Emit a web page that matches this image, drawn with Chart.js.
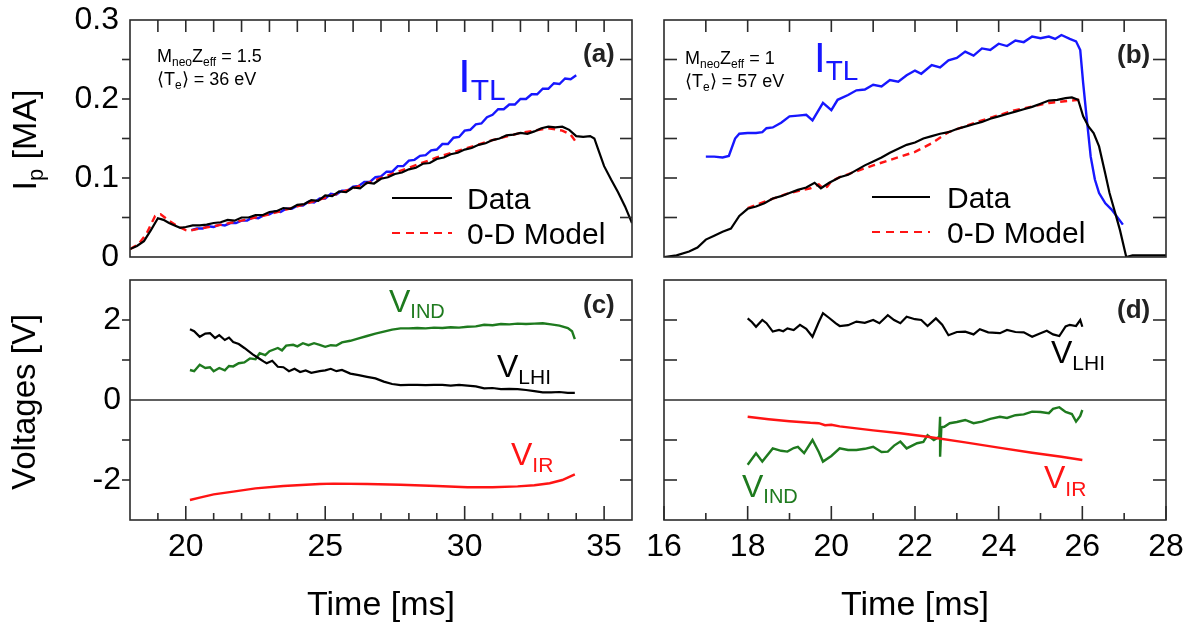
<!DOCTYPE html>
<html><head><meta charset="utf-8">
<script src="https://cdn.jsdelivr.net/npm/chart.js@4.4.0/dist/chart.umd.min.js"></script>
<style>
html,body{margin:0;padding:0;background:#fff;}
body{width:1190px;height:629px;overflow:hidden;position:relative;}
canvas{position:absolute;}
</style></head>
<body>
<canvas id="ca" width="660" height="268" style="left:0;top:0"></canvas>
<canvas id="cb" width="550" height="268" style="left:640px;top:0"></canvas>
<canvas id="cc" width="660" height="361" style="left:0;top:268px"></canvas>
<canvas id="cd" width="550" height="361" style="left:640px;top:268px"></canvas>
<script>
// ---------- Panel (a): plasma current, MneoZeff = 1.5 ----------
const tA_data = [18.0,18.25,18.5,18.75,19.0,19.2,19.4,19.6,19.8,20.0,
 20.25,20.5,20.75,21.0,21.25,21.5,21.75,22.0,22.25,22.5,
 22.75,23.0,23.25,23.5,23.75,24.0,24.25,24.5,24.75,25.0,
 25.25,25.5,25.75,26.0,26.25,26.5,26.75,27.0,27.25,27.5,
 27.75,28.0,28.25,28.5,28.75,29.0,29.25,29.5,29.75,30.0,
 30.25,30.5,30.75,31.0,31.25,31.5,31.75,32.0,32.25,32.5,
 32.75,33.0,33.25,33.5,33.75,34.0,34.25,34.5,34.65,34.8,
 35.0,35.25,35.5,35.75,36.0];
const ipA_data = [0.010,0.014,0.020,0.034,0.049,0.047,0.043,0.040,0.037,0.038,
 0.040,0.040,0.041,0.043,0.044,0.047,0.046,0.050,0.050,0.053,
 0.053,0.057,0.058,0.062,0.061,0.066,0.067,0.072,0.071,0.078,
 0.077,0.083,0.082,0.088,0.087,0.094,0.093,0.099,0.101,0.105,
 0.107,0.111,0.113,0.118,0.119,0.124,0.126,0.130,0.132,0.136,
 0.138,0.142,0.144,0.148,0.150,0.154,0.155,0.157,0.156,0.159,
 0.163,0.165,0.164,0.165,0.161,0.153,0.152,0.153,0.150,0.135,
 0.115,0.098,0.082,0.064,0.043];
const tA_model = [18.0,18.3,18.6,18.9,19.1,19.4,19.7,20.0,20.1,20.5,
 21.0,22.0,23.0,24.0,25.0,26.0,27.0,28.0,29.0,30.0,
 31.0,32.0,32.5,33.0,33.5,33.8,34.0];
const ipA_model = [0.010,0.016,0.030,0.052,0.054,0.046,0.039,0.034,0.033,0.036,
 0.039,0.046,0.054,0.064,0.075,0.087,0.100,0.113,0.126,0.137,
 0.148,0.157,0.160,0.163,0.160,0.155,0.145];
const tA_tl = [20.2,20.4,20.6,20.8,21.0,21.2,21.4,21.6,21.8,22.0,
 22.2,22.4,22.6,22.8,23.0,23.2,23.4,23.6,23.8,24.0,
 24.2,24.4,24.6,24.8,25.0,25.2,25.4,25.6,25.8,26.0,
 26.2,26.4,26.6,26.8,27.0,27.2,27.4,27.6,27.8,28.0,
 28.2,28.4,28.6,28.8,29.0,29.2,29.4,29.6,29.8,30.0,
 30.2,30.4,30.6,30.8,31.0,31.2,31.4,31.6,31.8,32.0,
 32.2,32.4,32.6,32.8,33.0,33.2,33.4,33.6,33.8,34.0];
const ipA_tl = [0.034,0.036,0.036,0.039,0.038,0.041,0.040,0.043,0.043,0.046,
 0.046,0.050,0.049,0.053,0.054,0.058,0.057,0.061,0.061,0.065,
 0.065,0.070,0.069,0.074,0.074,0.080,0.079,0.084,0.084,0.089,
 0.090,0.095,0.095,0.101,0.102,0.108,0.108,0.115,0.115,0.122,
 0.123,0.128,0.129,0.135,0.136,0.143,0.143,0.151,0.152,0.160,
 0.161,0.168,0.169,0.177,0.180,0.187,0.187,0.193,0.193,0.200,
 0.200,0.206,0.206,0.213,0.213,0.220,0.219,0.226,0.225,0.230];

// ---------- Panel (b): plasma current, MneoZeff = 1 ----------
const tB_data = [16.0,16.3,16.6,16.8,17.0,17.2,17.4,17.6,17.8,18.0,
 18.2,18.4,18.6,18.8,19.0,19.2,19.4,19.6,19.75,19.95,
 20.2,20.4,20.6,20.8,21.0,21.2,21.4,21.6,21.8,22.0,
 22.2,22.4,22.6,22.8,23.0,23.2,23.4,23.6,23.8,24.0,
 24.2,24.4,24.6,24.8,25.0,25.2,25.4,25.6,25.75,25.9,
 26.02,26.15,26.27,26.4,26.55,26.65,26.8,26.9,27.05,27.2,
 27.5,28.0];
const ipB_data = [0.000,0.002,0.007,0.012,0.022,0.027,0.032,0.036,0.052,0.061,
 0.064,0.068,0.074,0.077,0.081,0.085,0.088,0.094,0.087,0.094,
 0.101,0.104,0.110,0.116,0.121,0.126,0.132,0.137,0.142,0.145,
 0.150,0.153,0.156,0.158,0.162,0.165,0.168,0.171,0.175,0.178,
 0.181,0.184,0.187,0.190,0.194,0.198,0.199,0.201,0.202,0.199,
 0.178,0.165,0.157,0.140,0.105,0.081,0.053,0.034,0.000,0.002,
 0.002,0.002];
const tB_model = [18.0,18.5,19.0,19.5,19.7,19.8,19.9,20.0,20.2,21.0,
 22.0,22.4,22.8,23.6,24.4,25.2,25.9,26.0];
const ipB_model = [0.062,0.072,0.081,0.087,0.092,0.087,0.089,0.096,0.101,0.116,
 0.133,0.144,0.158,0.173,0.186,0.195,0.199,0.197];
const tB_tl = [17.0,17.2,17.4,17.55,17.7,17.8,18.0,18.2,18.35,18.45,
 18.6,18.8,19.0,19.2,19.4,19.55,19.8,20.0,20.15,20.4,
 20.6,20.8,21.0,21.2,21.4,21.6,21.8,22.0,22.15,22.4,
 22.6,22.8,23.0,23.2,23.4,23.6,23.8,24.0,24.2,24.4,
 24.6,24.8,25.0,25.2,25.35,25.5,25.7,25.85,25.95,26.02,
 26.1,26.2,26.3,26.4,26.55,26.7,26.97];
const ipB_tl = [0.127,0.127,0.126,0.128,0.150,0.156,0.157,0.157,0.158,0.163,
 0.164,0.170,0.178,0.179,0.180,0.173,0.195,0.186,0.199,0.205,
 0.211,0.212,0.218,0.216,0.224,0.222,0.230,0.236,0.232,0.243,
 0.240,0.249,0.252,0.260,0.255,0.264,0.262,0.270,0.267,0.274,
 0.272,0.279,0.277,0.279,0.276,0.281,0.276,0.273,0.262,0.220,
 0.178,0.127,0.098,0.081,0.068,0.060,0.041];

// ---------- Panel (c): voltages ----------
const tC_lhi = [20.15,20.3,20.5,20.7,20.87,21.05,21.2,21.4,21.55,21.7,
 21.9,22.1,22.4,22.6,22.8,22.9,23.1,23.3,23.5,23.7,
 23.9,24.1,24.3,24.5,24.8,25.0,25.2,25.4,25.6,25.9,
 26.2,26.5,26.8,27.1,27.4,27.7,28.0,28.3,28.6,28.9,
 29.2,29.5,29.8,30.1,30.4,30.7,31.0,31.3,31.6,31.9,
 32.2,32.5,32.8,33.1,33.4,33.7,33.95];
const vC_lhi = [1.77,1.72,1.58,1.66,1.67,1.55,1.62,1.50,1.56,1.45,
 1.40,1.30,1.14,1.05,0.96,0.92,0.98,0.83,0.82,0.72,
 0.78,0.70,0.74,0.68,0.72,0.74,0.78,0.72,0.75,0.66,
 0.62,0.58,0.54,0.46,0.40,0.37,0.38,0.38,0.37,0.38,
 0.38,0.36,0.38,0.36,0.34,0.29,0.30,0.27,0.28,0.27,
 0.25,0.22,0.19,0.19,0.20,0.18,0.18];
const tC_ind = [20.15,20.3,20.5,20.7,20.87,21.0,21.2,21.4,21.55,21.7,
 21.9,22.1,22.3,22.5,22.65,22.85,23.0,23.3,23.45,23.6,
 23.85,24.0,24.2,24.4,24.6,24.8,25.0,25.2,25.4,25.6,
 25.9,26.2,26.5,26.8,27.1,27.4,27.7,28.0,28.3,28.6,
 28.9,29.2,29.5,29.8,30.1,30.4,30.7,31.0,31.3,31.6,
 31.9,32.2,32.5,32.8,33.1,33.4,33.7,33.85,33.95];
const vC_ind = [0.75,0.72,0.88,0.80,0.82,0.72,0.80,0.74,0.85,0.84,
 0.92,0.94,1.04,1.02,1.17,1.12,1.22,1.30,1.24,1.36,
 1.38,1.34,1.42,1.37,1.42,1.38,1.33,1.37,1.36,1.44,
 1.48,1.54,1.60,1.66,1.71,1.76,1.79,1.79,1.80,1.79,
 1.81,1.80,1.82,1.81,1.83,1.84,1.88,1.87,1.90,1.89,
 1.91,1.90,1.91,1.92,1.89,1.86,1.80,1.72,1.52];
const tC_ir = [20.15,20.5,21.0,21.7,22.5,23.5,24.8,25.3,26.5,27.7,
 29.0,30.1,31.0,31.9,32.5,33.05,33.5,33.95];
const vC_ir = [-2.50,-2.44,-2.36,-2.29,-2.21,-2.15,-2.10,-2.09,-2.10,-2.12,
 -2.15,-2.18,-2.18,-2.16,-2.13,-2.08,-2.00,-1.86];

// ---------- Panel (d): voltages ----------
const tD_lhi = [18.0,18.1,18.2,18.35,18.45,18.6,18.75,18.85,18.95,19.1,
 19.25,19.4,19.55,19.7,19.8,19.95,20.1,20.2,20.4,20.6,
 20.8,21.0,21.15,21.35,21.5,21.65,21.8,22.0,22.15,22.3,
 22.5,22.65,22.8,23.0,23.2,23.4,23.55,23.75,24.03,24.2,
 24.4,24.6,24.8,25.0,25.15,25.3,25.45,25.6,25.7,25.85,
 25.95,26.0];
const vD_lhi = [2.04,1.95,1.83,2.00,1.92,1.71,1.75,1.72,1.79,1.75,
 1.88,1.78,1.58,1.95,2.17,2.05,1.92,1.85,1.87,1.96,
 1.93,2.00,1.92,2.12,2.00,1.92,2.08,2.02,2.00,1.85,
 2.04,1.88,1.62,1.70,1.71,1.64,1.77,1.69,1.67,1.75,
 1.70,1.69,1.58,1.67,1.73,1.64,1.60,1.84,1.88,1.85,
 2.00,1.83];
const tD_ind = [18.0,18.2,18.35,18.6,18.8,18.95,19.1,19.2,19.35,19.55,
 19.7,19.8,20.0,20.2,20.4,20.6,20.8,21.0,21.2,21.35,
 21.5,21.65,21.8,22.05,22.2,22.3,22.45,22.58,22.6,22.6,
 22.63,22.7,22.83,23.0,23.2,23.4,23.6,23.8,24.03,24.2,
 24.4,24.6,24.8,25.0,25.2,25.3,25.45,25.6,25.75,25.85,
 25.95,26.0];
const vD_ind = [-1.62,-1.33,-1.54,-1.21,-1.27,-1.29,-1.20,-1.17,-1.33,-1.00,
 -1.30,-1.54,-1.40,-1.21,-1.25,-1.25,-1.22,-1.17,-1.30,-1.29,
 -1.14,-1.04,-1.21,-1.08,-1.05,-0.88,-1.00,-0.92,-0.42,-1.42,
 -0.68,-0.67,-0.58,-0.55,-0.50,-0.58,-0.54,-0.47,-0.42,-0.45,
 -0.38,-0.36,-0.29,-0.30,-0.33,-0.22,-0.18,-0.30,-0.35,-0.54,
 -0.40,-0.25];
const tD_ir = [18.0,18.5,19.0,19.5,19.7,19.85,20.0,20.2,21.0,21.65,
 22.3,23.2,24.0,24.8,25.5,26.0];
const vD_ir = [-0.42,-0.48,-0.53,-0.57,-0.58,-0.63,-0.62,-0.66,-0.76,-0.83,
 -0.92,-1.06,-1.19,-1.32,-1.42,-1.50];

// ---------- Axis ticks ----------
const ipTicks = [0, 0.1, 0.2, 0.3];
const ipTickLabels = ['0', '0.1', '0.2', '0.3'];
const ipMinorTicks = [0.05, 0.1, 0.15, 0.2, 0.25];
const vTicks = [-2, 0, 2];
const vTickLabels = ['-2', '0', '2'];
const vMinorTicks = [-2, -1, 1, 2];
const tTicksLeft = [20, 25, 30, 35];
const tTicksLeftMinor = [19,21,22,23,24,26,27,28,29,31,32,33,34];
const tTopLeft = [19,20,21,22,23,24,25,26,27,28,29,30,31,32,33,34,35];
const tTicksRight = [16, 18, 20, 22, 24, 26, 28];
const tTicksRightMinor = [17, 19, 21, 23, 25, 27];
const tTopRight = [17,18,19,20,21,22,23,24,25,26,27];

const FONT = '"Liberation Sans", Arial, Helvetica, sans-serif';
const BLUE = '#1717ff', RED = '#ff1414', GREEN = '#1e7a1e', BLACK = '#000000', FRAME = '#2b2b2b';

function pts(t, v) { return t.map((x, i) => ({ x: x, y: v[i] })); }
function seg(ctx, x1, y1, x2, y2) { ctx.beginPath(); ctx.moveTo(x1, y1); ctx.lineTo(x2, y2); ctx.stroke(); }
function rich(ctx, x, y, parts, color) {
  ctx.fillStyle = color; ctx.textBaseline = 'alphabetic'; ctx.textAlign = 'left';
  let cx = x;
  for (const p of parts) {
    ctx.font = (p[3] || '') + ' ' + p[1] + 'px ' + FONT;
    ctx.fillText(p[0], cx, y + (p[2] || 0));
    cx += ctx.measureText(p[0]).width;
  }
}
function vtitle(ctx, cx, cy, parts) {
  ctx.save(); ctx.translate(cx, cy); ctx.rotate(-Math.PI / 2);
  let w = 0;
  for (const p of parts) { ctx.font = p[1] + 'px ' + FONT; w += ctx.measureText(p[0]).width; }
  rich(ctx, -w / 2, 0, parts, '#000');
  ctx.restore();
}
function legendItem(ctx, x1, x2, y, color, dash, label, tx, ty) {
  ctx.save(); ctx.strokeStyle = color; ctx.lineWidth = 2.2; ctx.setLineDash(dash);
  seg(ctx, x1, y, x2, y); ctx.restore();
  rich(ctx, tx, ty, [[label, 30]], '#000');
}

function decor(spec) {
  return { id: 'decor', afterDatasetsDraw(chart) {
    const ctx = chart.ctx, a = chart.chartArea, x = chart.scales.x, y = chart.scales.y;
    ctx.save();
    ctx.strokeStyle = FRAME; ctx.lineWidth = 1.6;
    if (spec.zero) { const p = y.getPixelForValue(0); seg(ctx, a.left, p, a.right, p); }
    (spec.left || []).forEach(([vals, len]) => vals.forEach(v => { const p = y.getPixelForValue(v); seg(ctx, a.left, p, a.left + len, p); }));
    (spec.right || []).forEach(([vals, len]) => vals.forEach(v => { const p = y.getPixelForValue(v); seg(ctx, a.right, p, a.right - len, p); }));
    (spec.top || []).forEach(([vals, len]) => vals.forEach(v => { const p = x.getPixelForValue(v); seg(ctx, p, a.top, p, a.top + len); }));
    (spec.bottom || []).forEach(([vals, len]) => vals.forEach(v => { const p = x.getPixelForValue(v); seg(ctx, p, a.bottom, p, a.bottom - len); }));
    ctx.strokeRect(a.left, a.top, a.right - a.left, a.bottom - a.top);
    ctx.restore();
    if (spec.draw) { ctx.save(); ctx.translate(-spec.ox, -spec.oy); spec.draw(ctx); ctx.restore(); }
  }};
}

function ds(t, v, color, dash, width) {
  return { data: pts(t, v), borderColor: color, borderWidth: width || 2.2, borderDash: dash || [], pointRadius: 0, tension: 0, fill: false };
}

function yAxis(show, min, max, ticks, labels, pad) {
  const ax = { type: 'linear', min: min, max: max, display: show,
    grid: { display: false, drawTicks: false }, border: { display: false } };
  if (show) {
    ax.afterBuildTicks = s => { s.ticks = ticks.map(v => ({ value: v })); };
    ax.afterFit = s => { s.width = 130; s.paddingTop = 0; s.paddingBottom = 0; };
    ax.ticks = { padding: pad, color: '#000', font: { family: FONT, size: 32 }, callback: (v, i) => labels[i] };
  }
  return ax;
}
function xAxis(show, min, max, ticks) {
  const ax = { type: 'linear', min: min, max: max, display: show,
    grid: { display: false, drawTicks: false }, border: { display: false } };
  if (show) {
    ax.afterBuildTicks = s => { s.ticks = ticks.map(v => ({ value: v })); };
    ax.afterFit = s => { s.height = 109; s.paddingLeft = 0; s.paddingRight = 0; };
    ax.ticks = { padding: 8, color: '#000', autoSkip: false, maxRotation: 0, font: { family: FONT, size: 32 }, callback: (v, i) => String(ticks[i]) };
    ax.title = { display: true, text: 'Time [ms]', color: '#000', font: { family: FONT, size: 34 }, padding: { top: 0, bottom: 3 } };
  }
  return ax;
}
function opts(pad, xs, ys) {
  return { responsive: false, animation: false, events: [],
    layout: { padding: pad },
    plugins: { legend: { display: false }, tooltip: { enabled: false } },
    scales: { x: xs, y: ys } };
}

// (a)
new Chart(document.getElementById('ca'), {
  type: 'line',
  data: { datasets: [
    ds(tA_data, ipA_data, BLACK, null, 2.2),
    ds(tA_model, ipA_model, RED, [7, 5], 2.4),
    ds(tA_tl, ipA_tl, BLUE, null, 2.4)
  ]},
  options: opts({ left: 0, top: 20, right: 28, bottom: 11 }, xAxis(false, 18, 36), yAxis(true, 0, 0.3, ipTicks, ipTickLabels, 11)),
  plugins: [decor({ ox: 0, oy: 0,
    left: [[ipMinorTicks, -8]], right: [[ipMinorTicks, 12]], top: [[tTopLeft, 12]],
    draw(ctx) {
      vtitle(ctx, 36, 140, [['I', 34], ['p', 22, 7], [' [MA]', 34]]);
      rich(ctx, 157, 62, [['M', 18], ['neo', 12, 4], ['Z', 18], ['eff', 12, 4], [' = 1.5', 18]], '#000');
      rich(ctx, 157, 85, [['\u27E8T', 18], ['e', 12, 4], ['\u27E9 = 36 eV', 18]], '#000');
      rich(ctx, 458, 92, [['I', 46], ['TL', 30, 8]], BLUE);
      rich(ctx, 583, 62, [['(a)', 26, 0, 'bold']], '#222');
      legendItem(ctx, 392, 452, 198, BLACK, [], 'Data', 467, 209);
      legendItem(ctx, 392, 452, 233, RED, [8, 6], '0-D Model', 467, 244);
    } })]
});

// (b)
new Chart(document.getElementById('cb'), {
  type: 'line',
  data: { datasets: [
    ds(tB_data, ipB_data, BLACK, null, 2.2),
    ds(tB_model, ipB_model, RED, [7, 5], 2.4),
    ds(tB_tl, ipB_tl, BLUE, null, 2.4)
  ]},
  options: opts({ left: 24, top: 20, right: 24, bottom: 11 }, xAxis(false, 16, 28), yAxis(false, 0, 0.3)),
  plugins: [decor({ ox: 640, oy: 0,
    left: [[ipMinorTicks, 13]], right: [[ipMinorTicks, 13]], top: [[tTopRight, 12]],
    draw(ctx) {
      rich(ctx, 685, 64, [['M', 18], ['neo', 12, 4], ['Z', 18], ['eff', 12, 4], [' = 1', 18]], '#000');
      rich(ctx, 685, 87, [['\u27E8T', 18], ['e', 12, 4], ['\u27E9 = 57 eV', 18]], '#000');
      rich(ctx, 814, 72, [['I', 42], ['TL', 28, 8]], BLUE);
      rich(ctx, 1117, 63, [['(b)', 26, 0, 'bold']], '#222');
      legendItem(ctx, 872, 930, 197, BLACK, [], 'Data', 947, 208);
      legendItem(ctx, 872, 930, 232, RED, [8, 6], '0-D Model', 947, 243);
    } })]
});

// (c)
new Chart(document.getElementById('cc'), {
  type: 'line',
  data: { datasets: [
    ds(tC_lhi, vC_lhi, BLACK, null, 2.2),
    ds(tC_ind, vC_ind, GREEN, null, 2.4),
    ds(tC_ir, vC_ir, RED, null, 2.4)
  ]},
  options: opts({ left: 0, top: 12, right: 28, bottom: 0 }, xAxis(true, 18, 36, tTicksLeft), yAxis(true, -3, 3, vTicks, vTickLabels, 9)),
  plugins: [decor({ ox: 0, oy: 268, zero: true,
    left: [[vMinorTicks, -8]], right: [[vMinorTicks, 12]],
    bottom: [[tTicksLeft, 14], [tTicksLeftMinor, 7]],
    draw(ctx) {
      vtitle(ctx, 35, 402, [['Voltages [V]', 33]]);
      rich(ctx, 389, 312, [['V', 32], ['IND', 20, 6]], GREEN);
      rich(ctx, 497, 377, [['V', 32], ['LHI', 21, 7]], '#000');
      rich(ctx, 511, 465, [['V', 32], ['IR', 21, 7]], RED);
      rich(ctx, 583, 313, [['(c)', 26, 0, 'bold']], '#222');
    } })]
});

// (d)
new Chart(document.getElementById('cd'), {
  type: 'line',
  data: { datasets: [
    ds(tD_lhi, vD_lhi, BLACK, null, 2.2),
    ds(tD_ir, vD_ir, RED, null, 2.4),
    ds(tD_ind, vD_ind, GREEN, null, 2.4)
  ]},
  options: opts({ left: 24, top: 12, right: 24, bottom: 0 }, xAxis(true, 16, 28, tTicksRight), yAxis(false, -3, 3)),
  plugins: [decor({ ox: 640, oy: 268, zero: true,
    left: [[vMinorTicks, 13]], right: [[vMinorTicks, 13]],
    bottom: [[tTicksRight, 14], [tTicksRightMinor, 7]],
    draw(ctx) {
      rich(ctx, 1051, 363, [['V', 32], ['LHI', 21, 7]], '#000');
      rich(ctx, 1044, 488, [['V', 32], ['IR', 21, 8]], RED);
      rich(ctx, 742, 497, [['V', 32], ['IND', 20, 6]], GREEN);
      rich(ctx, 1117, 318, [['(d)', 26, 0, 'bold']], '#222');
    } })]
});
</script>
</body></html>
